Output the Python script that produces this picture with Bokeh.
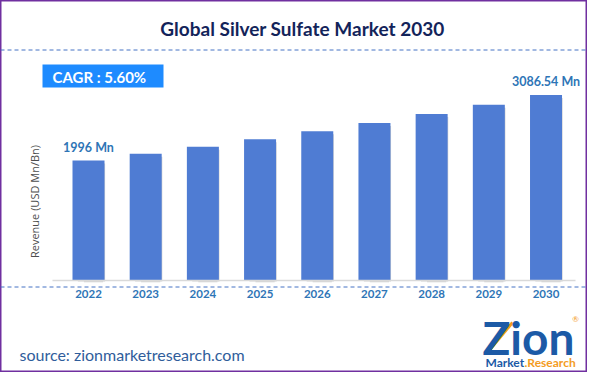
import math
from bokeh.plotting import figure
from bokeh.models import Range1d, Label, Span, BoxAnnotation, ColumnDataSource
from bokeh.core.properties import value
from bokeh.embed import file_html
from bokeh.resources import INLINE

# ---- data ----
years = ["2022", "2023", "2024", "2025", "2026", "2027", "2028", "2029", "2030"]
revenue = [1996.0, 2108.0, 2226.0, 2350.0, 2482.0, 2621.0, 2768.0, 2923.0, 3086.54]
value_labels = ["1996 Mn", "", "", "", "", "", "", "", "3086.54 Mn"]
title_text = "Global Silver Sulfate Market 2030"
cagr_text = "CAGR :  5.60%"
y_label_text = "Revenue (USD Mn/Bn)"
source_text = "source: zionmarketresearch.com"

# ---- layout (reference pixel mapping helpers) ----
W, H = 587, 372
OX, OY = 3, 4            # shift of reference pixels into the figure
SPACING = 57.19          # px per category
C0 = 91.0                # reference px of first category center
K = 0.06012              # px per unit of revenue
BASE = 284.0             # reference px (from top) of zero line

def X(ref_x):
    return (ref_x - C0) / SPACING

def Y(ref_y):
    return (BASE - ref_y) / K

p = figure(width=W, height=H, output_backend="svg", toolbar_location=None,
           x_axis_location=None, y_axis_location=None,
           x_range=Range1d(X(OX), X(OX + W)), y_range=Range1d(Y(OY + H), Y(OY)),
           min_border=0, min_border_left=0, min_border_right=0,
           min_border_top=0, min_border_bottom=0)
p.grid.visible = False
p.background_fill_color = "white"
p.border_fill_color = "white"
p.outline_line_color = "#7030A0"
p.outline_line_width = 2

idx = list(range(len(years)))
src = ColumnDataSource(dict(x=idx, top=revenue, year=years, lab=value_labels,
                            zero=[0] * len(years)))

BW = 32 / SPACING

# shadows
p.vbar(x=[i + 5 / SPACING for i in idx], top=[v - 4 / K for v in revenue],
       bottom=[-2 / K] * len(idx), width=BW * 0.6, fill_color="#7f7f7f",
       fill_alpha=0.18, line_color=None)
p.vbar(x=[i + 3 / SPACING for i in idx], top=[v - 3 / K for v in revenue],
       bottom=[-1 / K] * len(idx), width=BW * 0.85, fill_color="#7f7f7f",
       fill_alpha=0.35, line_color=None)

# bars
p.vbar(x="x", top="top", bottom=0, width=BW, source=src,
       fill_color="#4F7CD3", line_color=None)

# axis baseline
p.segment(x0=X(55), x1=X(578), y0=0, y1=0, line_color="#D9D9D9", line_width=1.5)

# dashed separators
p.add_layout(Span(location=Y(53.5), dimension="width", line_color="#4472C4",
                  line_dash="4 3", line_width=1))
p.add_layout(Span(location=Y(290.5), dimension="width", line_color="#4472C4",
                  line_dash="4 3", line_width=1))

# value labels
p.text(x="x", y="top", text="lab", source=src, text_align="center",
       text_baseline="bottom", y_offset=-6, text_color="#2E75B6",
       text_font=value("Lato"), text_font_style="bold", text_font_size="12.5px")

# year labels
p.text(x="x", y="zero", text="year", source=src, text_align="center",
       text_baseline="middle", y_offset=13, text_color="#2E75B6",
       text_font=value("Lato"), text_font_style="bold", text_font_size="11.5px")

# title
p.add_layout(Label(x=X(305), y=Y(32), text=title_text, text_align="center",
                   text_baseline="middle", text_color="#13245A",
                   text_font="Lato", text_font_style="bold", text_font_size="19px"))

# CAGR box
p.add_layout(BoxAnnotation(left=X(45), right=X(166), top=Y(68), bottom=Y(91),
                           fill_color="#1E8BFF", fill_alpha=1.0, line_color=None))
p.add_layout(Label(x=X(55), y=Y(80), text=cagr_text, text_align="left",
                   text_baseline="middle", text_color="white",
                   text_font="Lato", text_font_style="bold", text_font_size="15px"))

# y label
p.add_layout(Label(x=X(37), y=Y(205), text=y_label_text, angle=math.pi / 2,
                   text_align="center", text_baseline="middle", text_color="#4D4D4D",
                   text_font="Open Sans", text_font_size="11px"))

# source
p.add_layout(Label(x=X(22), y=Y(358), text=source_text, text_align="left",
                   text_baseline="middle", text_color="#2F5D9B",
                   text_font="Lato", text_font_size="16px"))

# logo
p.add_layout(Label(x=X(485), y=Y(341), text="Zion", text_align="left",
                   text_baseline="middle", text_color="#1C5AA6",
                   text_font="Lato", text_font_style="bold", text_font_size="46px"))
p.segment(x0=X(490), y0=Y(356), x1=X(515), y1=Y(326), line_color="#F39C1F",
          line_width=3)
p.add_layout(Label(x=X(488), y=Y(366), text="Market", text_align="left",
                   text_baseline="middle", text_color="#1C5AA6",
                   text_font="Lato", text_font_style="bold", text_font_size="12px"))
p.add_layout(Label(x=X(527), y=Y(366), text=".Research", text_align="left",
                   text_baseline="middle", text_color="#F39C1F",
                   text_font="Lato", text_font_style="bold", text_font_size="12px"))
p.add_layout(Label(x=X(578), y=Y(322), text="®", text_align="center",
                   text_baseline="middle", text_color="#F39C1F",
                   text_font="Lato", text_font_size="8px"))

open("out.html", "w").write(file_html(p, INLINE))
